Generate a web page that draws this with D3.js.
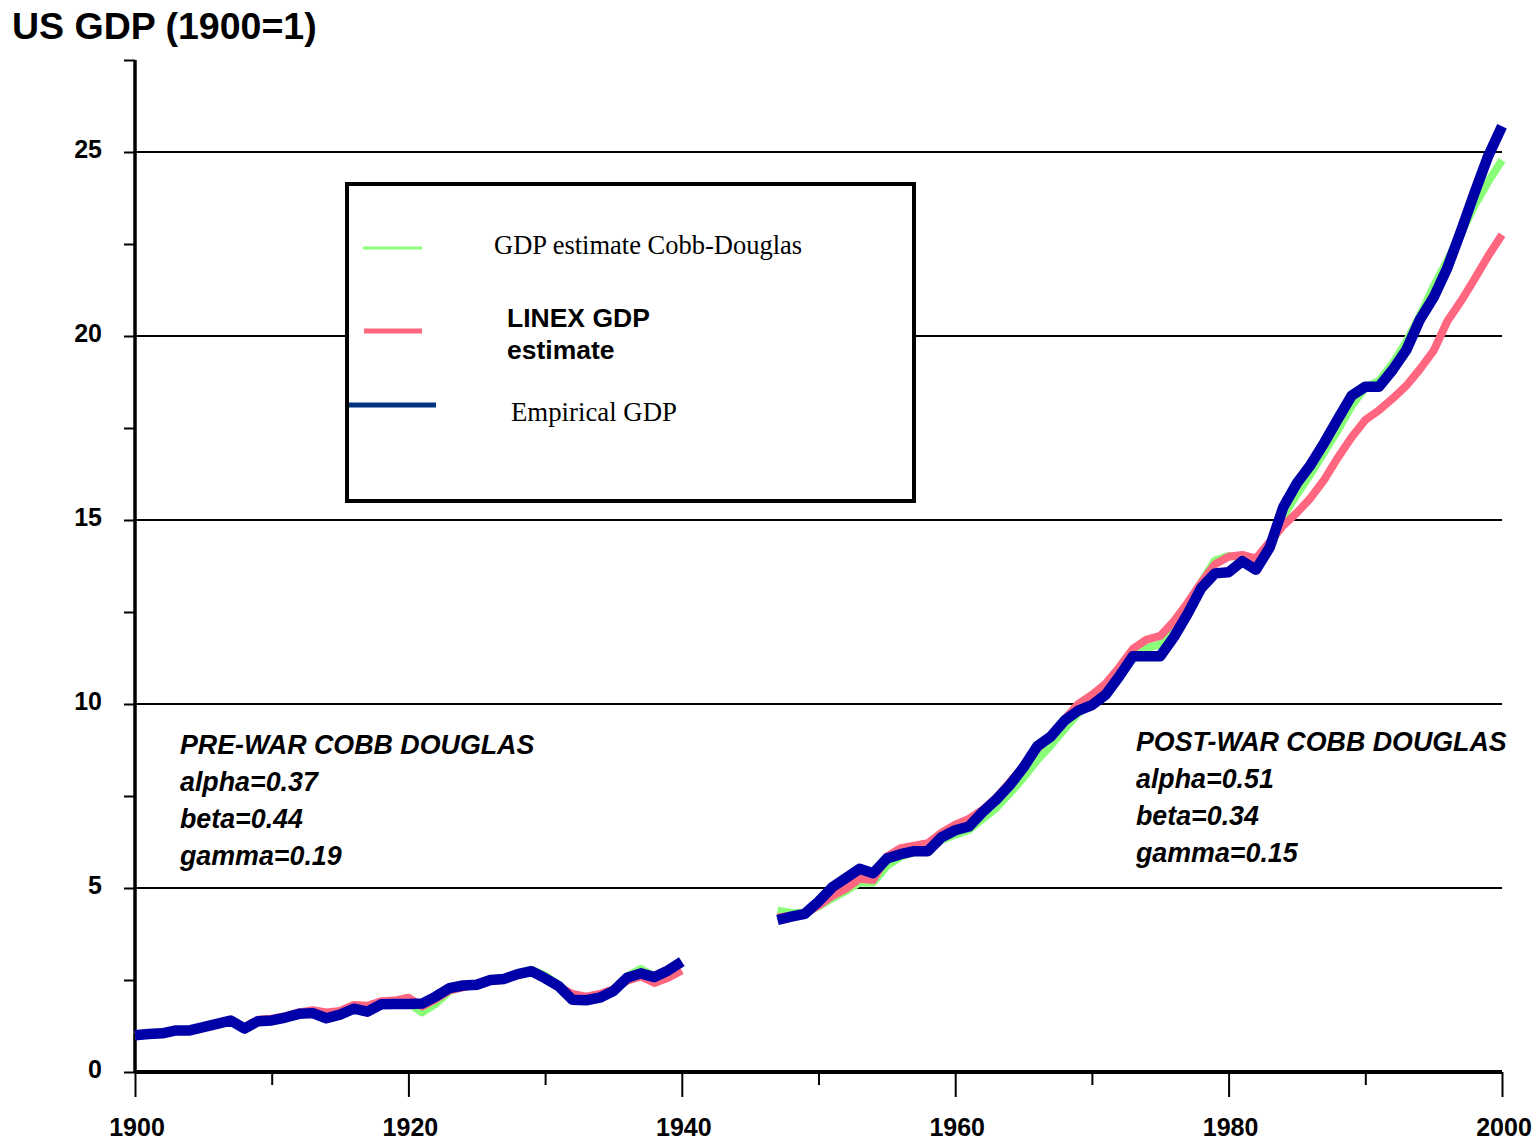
<!DOCTYPE html>
<html>
<head>
<meta charset="utf-8">
<script src="https://cdn.jsdelivr.net/npm/d3@7"></script>
<style>
  html, body { margin: 0; padding: 0; background: #fff; }
  svg { display: block; }
</style>
</head>
<body>
<svg id="chart" width="1540" height="1140"></svg>
<script>
// ---------------- DATA ----------------
const yearsPre = d3.range(1900, 1941);   // 1900..1940
const yearsPost = d3.range(1947, 2001);  // 1947..2000

const empiricalPre = [1.00,1.03,1.05,1.13,1.13,1.22,1.31,1.40,1.18,1.38,
                      1.40,1.48,1.58,1.60,1.46,1.56,1.72,1.64,1.84,1.85,
                      1.85,1.86,2.05,2.28,2.35,2.37,2.50,2.53,2.66,2.74,
                      2.55,2.33,1.96,1.95,2.02,2.20,2.56,2.68,2.58,2.76,3.00];
const linexPre     = [1.00,1.03,1.06,1.13,1.14,1.22,1.31,1.40,1.22,1.42,
                      1.45,1.52,1.62,1.68,1.62,1.66,1.82,1.80,1.92,1.94,
                      2.02,1.78,1.98,2.22,2.30,2.40,2.50,2.55,2.65,2.72,
                      2.52,2.32,2.12,2.05,2.12,2.25,2.48,2.60,2.42,2.56,2.76];
const cobbPre      = [1.00,1.03,1.05,1.13,1.13,1.22,1.31,1.40,1.19,1.39,
                      1.41,1.49,1.59,1.61,1.50,1.58,1.74,1.68,1.86,1.87,
                      1.88,1.62,1.85,2.20,2.33,2.38,2.50,2.54,2.68,2.78,
                      2.62,2.36,2.02,2.00,2.06,2.24,2.60,2.80,2.60,2.74,2.96];

const empiricalPost = [4.13,4.22,4.30,4.63,5.02,5.27,5.52,5.40,5.80,5.92,
                       6.00,6.00,6.38,6.57,6.67,7.06,7.40,7.80,8.28,8.85,
                       9.12,9.55,9.82,9.97,10.25,10.75,11.30,11.30,11.30,11.82,
                       12.45,13.15,13.55,13.58,13.88,13.65,14.25,15.35,16.00,16.50,
                       17.10,17.75,18.38,18.62,18.62,19.08,19.62,20.45,21.05,21.85,
                       22.85,23.90,24.90,25.70];
const linexPost     = [4.20,4.25,4.30,4.52,4.78,4.98,5.25,5.22,5.85,6.08,
                       6.15,6.22,6.50,6.72,6.88,7.12,7.45,7.88,8.30,8.78,
                       9.12,9.58,10.00,10.25,10.55,11.00,11.50,11.75,11.85,12.25,
                       12.75,13.30,13.80,14.00,14.05,13.95,14.40,14.85,15.20,15.60,
                       16.10,16.70,17.25,17.72,17.98,18.30,18.65,19.10,19.60,20.40,
                       20.95,21.55,22.18,22.75];
const cobbPost      = [4.38,4.32,4.32,4.50,4.72,4.92,5.15,5.15,5.60,5.85,
                       5.98,6.10,6.30,6.45,6.58,6.88,7.18,7.58,8.00,8.48,
                       8.88,9.32,9.75,10.02,10.30,10.80,11.30,11.52,11.62,12.02,
                       12.55,13.30,13.90,14.02,14.00,13.80,14.20,15.10,15.70,16.25,
                       16.85,17.45,18.10,18.60,18.78,19.25,19.85,20.55,21.35,22.05,
                       22.80,23.55,24.20,24.78];

const yTicks = [0, 2.5, 5, 7.5, 10, 12.5, 15, 17.5, 20, 22.5, 25, 27.5];
const yLabels = [0, 5, 10, 15, 20, 25];
const xTicks = [1900, 1910, 1920, 1930, 1940, 1950, 1960, 1970, 1980, 1990, 2000];
const xLabels = [1900, 1920, 1940, 1960, 1980, 2000];

const seriesNames = ["GDP estimate Cobb-Douglas", "LINEX GDP estimate", "Empirical GDP"];
const preWarText = ["PRE-WAR COBB DOUGLAS", "alpha=0.37", "beta=0.44", "gamma=0.19"];
const postWarText = ["POST-WAR COBB DOUGLAS", "alpha=0.51", "beta=0.34", "gamma=0.15"];

// ---------------- DRAW ----------------
const svg = d3.select("#chart");
const x = d3.scaleLinear().domain([1900, 2000]).range([135, 1502]);
const y = d3.scaleLinear().domain([0, 27.5]).range([1072, 60]);

const SANS = "Arial, 'Liberation Sans', Helvetica, sans-serif";
const SERIF = "'Times New Roman', 'Liberation Serif', Times, serif";

// title
svg.append("text").attr("x", 12).attr("y", 39)
  .attr("font-family", SANS).attr("font-weight", "bold").attr("font-size", 37.5)
  .text("US GDP (1900=1)");

// gridlines
svg.append("g").selectAll("line").data(yLabels.filter(d => d > 0)).join("line")
  .attr("x1", x(1900)).attr("x2", x(2000))
  .attr("y1", d => y(d)).attr("y2", d => y(d))
  .attr("stroke", "#000").attr("stroke-width", 2);

// y axis
const yAxis = d3.axisLeft(y).tickValues(yTicks).tickSize(11).tickFormat("");
const gy = svg.append("g").attr("transform", `translate(${x(1900)},0)`).call(yAxis);
gy.select(".domain").attr("stroke", "#000").attr("stroke-width", 3.5)
  .attr("d", `M0,${y(27.5)}V${y(0)}`);
gy.selectAll(".tick line").attr("stroke", "#000").attr("stroke-width", 2);
svg.append("g").selectAll("text").data(yLabels).join("text")
  .attr("x", 102).attr("y", d => y(d) + 6)
  .attr("text-anchor", "end")
  .attr("font-family", SANS).attr("font-weight", "bold").attr("font-size", 25)
  .text(d => d);

// x axis
const xAxis = d3.axisBottom(x).tickValues(xTicks).tickFormat("").tickSize(13);
const gx = svg.append("g").attr("transform", `translate(0,${y(0)})`).call(xAxis);
gx.select(".domain").attr("stroke", "#000").attr("stroke-width", 4)
  .attr("d", `M${x(1900)},0H${x(2000)}`);
gx.selectAll(".tick line").attr("stroke", "#000").attr("stroke-width", 2)
  .attr("y2", d => xLabels.includes(d) ? 25 : 13);
svg.append("g").selectAll("text").data(xLabels).join("text")
  .attr("x", d => x(d) + 2).attr("y", 1136)
  .attr("text-anchor", "middle")
  .attr("font-family", SANS).attr("font-weight", "bold").attr("font-size", 25)
  .text(d => d);

// legend box
const lg = svg.append("g");
lg.append("rect").attr("x", 347).attr("y", 184).attr("width", 567).attr("height", 317)
  .attr("fill", "#fff").attr("stroke", "#000").attr("stroke-width", 4);
lg.append("line").attr("x1", 363).attr("x2", 422).attr("y1", 248).attr("y2", 248)
  .attr("stroke", "#88ff77").attr("stroke-width", 3);
lg.append("text").attr("x", 494).attr("y", 254)
  .attr("font-family", SERIF).attr("font-size", 26.5).text(seriesNames[0]);
lg.append("line").attr("x1", 364).attr("x2", 422).attr("y1", 331).attr("y2", 331)
  .attr("stroke", "#ff6680").attr("stroke-width", 5);
lg.append("text").attr("x", 507).attr("y", 327)
  .attr("font-family", SANS).attr("font-weight", "bold").attr("font-size", 26.5).text("LINEX GDP");
lg.append("text").attr("x", 507).attr("y", 359)
  .attr("font-family", SANS).attr("font-weight", "bold").attr("font-size", 26.5).text("estimate");
lg.append("line").attr("x1", 349).attr("x2", 436).attr("y1", 405).attr("y2", 405)
  .attr("stroke", "#003380").attr("stroke-width", 5);
lg.append("text").attr("x", 511).attr("y", 421)
  .attr("font-family", SERIF).attr("font-size", 26.8).text(seriesNames[2]);

// data lines
const line = d3.line().x(d => x(d[0])).y(d => y(d[1]));
function seg(years, vals) { return years.map((yr, i) => [yr, vals[i]]); }
const series = [
  { pre: cobbPre, post: cobbPost, color: "#88ff77", w: 8 },
  { pre: linexPre, post: linexPost, color: "#ff6680", w: 8 },
  { pre: empiricalPre, post: empiricalPost, color: "#0000a8", w: 10.5 }
];
const lines = svg.append("g");
series.forEach(s => {
  [seg(yearsPre, s.pre), seg(yearsPost, s.post)].forEach(data => {
    lines.append("path").attr("d", line(data))
      .attr("fill", "none").attr("stroke", s.color).attr("stroke-width", s.w)
      .attr("stroke-linejoin", "round");
  });
});

// annotations
function block(lines_, x0, y0) {
  svg.append("g").selectAll("text").data(lines_).join("text")
    .attr("x", x0).attr("y", (d, i) => y0 + i * 37)
    .attr("font-family", SANS).attr("font-weight", "bold").attr("font-style", "italic")
    .attr("font-size", 26.8).text(d => d);
}
block(preWarText, 180, 754);
block(postWarText, 1136, 751);
</script>
</body>
</html>
